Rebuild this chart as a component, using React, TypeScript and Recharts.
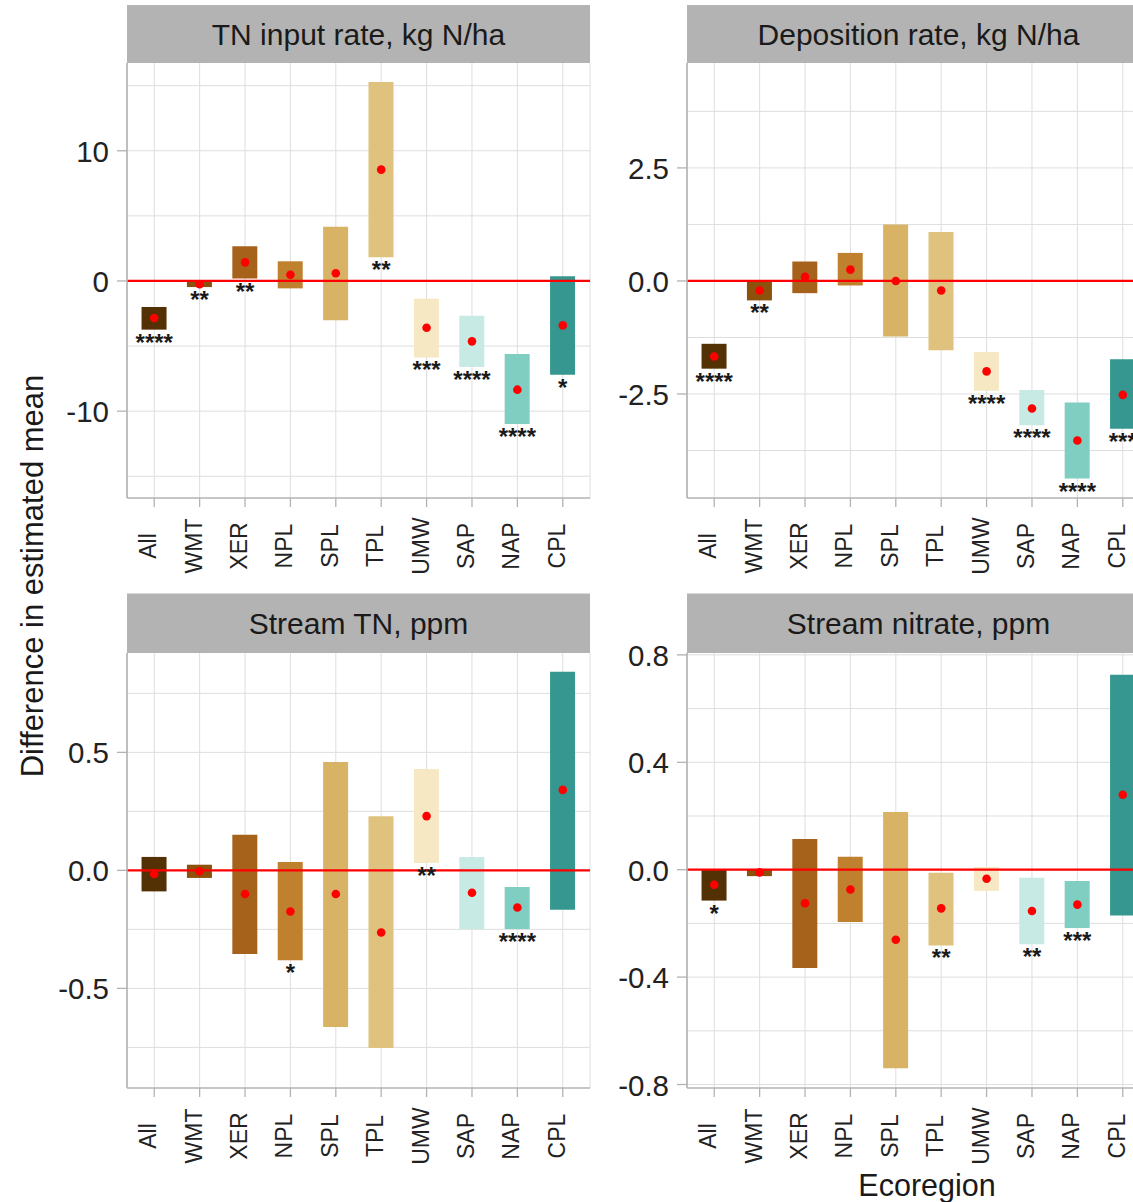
import React from 'react';
import {
  ComposedChart,
  Bar,
  Scatter,
  XAxis,
  YAxis,
  CartesianGrid,
  ReferenceLine,
  Cell,
} from 'recharts';

// ---------------- data ----------------
const ecoregions = ['All', 'WMT', 'XER', 'NPL', 'SPL', 'TPL', 'UMW', 'SAP', 'NAP', 'CPL'];
const ecoregionColors = [
  '#543005', '#8c510a', '#a6611a', '#bf812d', '#d8b365',
  '#dfc27d', '#f6e8c3', '#c7eae5', '#80cdc1', '#35978f',
];

// TN input rate, kg N/ha
const tnInputLow = [-3.74, -0.47, 0.18, -0.57, -3.02, 1.82, -5.87, -6.61, -10.98, -7.2];
const tnInputHigh = [-2.0, -0.02, 2.66, 1.51, 4.17, 15.28, -1.36, -2.67, -5.61, 0.36];
const tnInputEst = [-2.84, -0.25, 1.43, 0.48, 0.59, 8.55, -3.59, -4.64, -8.35, -3.41];
const tnInputSig = ['****', '**', '**', '', '', '**', '***', '****', '****', '*'];
const tnInputTicks = [-10, 0, 10];
const tnInputMinorTicks = [-15, -5, 5, 15];
const tnInputDomain = [-16.67, 16.74];

// Deposition rate, kg N/ha
const depositionLow = [-1.94, -0.43, -0.27, -0.1, -1.23, -1.53, -2.43, -3.19, -4.37, -3.27];
const depositionHigh = [-1.39, -0.01, 0.43, 0.62, 1.25, 1.08, -1.57, -2.41, -2.69, -1.73];
const depositionEst = [-1.67, -0.21, 0.09, 0.25, 0.0, -0.21, -2.0, -2.82, -3.53, -2.52];
const depositionSig = ['****', '**', '', '', '', '', '****', '****', '****', '***'];
const depositionTicks = [-2.5, 0, 2.5];
const depositionMinorTicks = [-3.75, -1.25, 1.25, 3.75];
const depositionDomain = [-4.8, 4.82];

// Stream TN, ppm
const streamTnLow = [-0.089, -0.032, -0.354, -0.381, -0.664, -0.753, 0.031, -0.248, -0.248, -0.167];
const streamTnHigh = [0.057, 0.024, 0.151, 0.036, 0.459, 0.229, 0.43, 0.057, -0.07, 0.842];
const streamTnEst = [-0.015, -0.004, -0.1, -0.174, -0.1, -0.263, 0.23, -0.095, -0.157, 0.341];
const streamTnSig = ['', '', '', '*', '', '', '**', '', '****', ''];
const streamTnTicks = [-0.5, 0, 0.5];
const streamTnMinorTicks = [-0.75, -0.25, 0.25, 0.75];
const streamTnDomain = [-0.922, 0.921];

// Stream nitrate, ppm
const nitrateLow = [-0.115, -0.024, -0.366, -0.195, -0.739, -0.282, -0.079, -0.278, -0.217, -0.171];
const nitrateHigh = [0.0, 0.0, 0.114, 0.048, 0.215, -0.011, 0.01, -0.03, -0.042, 0.726];
const nitrateEst = [-0.056, -0.01, -0.125, -0.074, -0.261, -0.144, -0.034, -0.154, -0.13, 0.279];
const nitrateSig = ['*', '', '', '', '', '**', '', '**', '***', ''];
const nitrateTicks = [-0.8, -0.4, 0, 0.4, 0.8];
const nitrateMinorTicks = [-0.6, -0.2, 0.2, 0.6];
const nitrateDomain = [-0.813, 0.807];

const categoryTicks = ecoregions.map((_, i) => i);

// ---------------- helpers ----------------
const FONT = '"Liberation Sans", Arial, Helvetica, sans-serif';
const GRID = '#dedede';
const FRAME = '#b3b3b3';

type Row = { idx: number; range: [number, number]; est: number; low: number; sig: string };

function buildRows(low: number[], high: number[], est: number[], sig: string[]): Row[] {
  return ecoregions.map((_, i) => ({
    idx: i,
    range: [low[i], high[i]] as [number, number],
    est: est[i],
    low: low[i],
    sig: sig[i],
  }));
}

const XTick = (props: any) => {
  const { x, y, payload } = props;
  const label = ecoregions[payload.value] ?? '';
  const ax = x + 2;
  const ay = y + 39;
  return (
    <text
      x={ax}
      y={ay}
      transform={`rotate(-90 ${ax} ${ay})`}
      textAnchor="middle"
      fontSize={23}
      fontFamily={FONT}
      fill="#222"
    >
      {label}
    </text>
  );
};

const makeYTick = (decimals: number) => (props: any) => {
  const { x, y, payload } = props;
  const v = Number(payload.value);
  const label = v.toFixed(decimals);
  return (
    <text x={x} y={y + 11} textAnchor="end" fontSize={29.5} fontFamily={FONT} fill="#222">
      {label}
    </text>
  );
};

const StarShape = (props: any) => {
  const sig = props?.payload?.sig;
  if (!sig) return <g />;
  return (
    <text
      x={props.cx}
      y={props.cy + 21}
      textAnchor="middle"
      fontSize={24}
      fontWeight="bold"
      fontFamily={FONT}
      fill="#1a1a1a"
    >
      {sig}
    </text>
  );
};

const DotShape = (props: any) => <circle cx={props.cx} cy={props.cy} r={4.3} fill="#ff0000" />;

type PanelProps = {
  left: number;
  top: number;
  axisWidth: number;
  rows: Row[];
  domain: number[];
  ticks: number[];
  minorTicks: number[];
  decimals: number;
  rightBorder: boolean;
};

const PAD_TOP = 20;

function Panel({ left, top, axisWidth, rows, domain, ticks, minorTicks, decimals, rightBorder }: PanelProps) {
  const plotW = 463;
  const plotH = 435;
  const xh = 90;
  const W = axisWidth + plotW + 2;
  return (
    <div style={{ position: 'absolute', left, top: top - PAD_TOP }}>
      <ComposedChart
        width={W}
        height={plotH + xh + PAD_TOP}
        data={rows}
        margin={{ top: PAD_TOP, right: 2, bottom: 0, left: 0 }}
      >
        <CartesianGrid stroke={GRID} strokeWidth={1} horizontalValues={[...minorTicks, ...ticks]} />
        <XAxis
          dataKey="idx"
          type="number"
          domain={[-0.6, 9.6]}
          allowDataOverflow
          ticks={categoryTicks}
          interval={0}
          height={xh}
          tickSize={9}
          tickMargin={0}
          tick={(p: any) => <XTick {...p} />}
          axisLine={{ stroke: FRAME, strokeWidth: 1.6 }}
          tickLine={{ stroke: FRAME, strokeWidth: 1.3 }}
        />
        <YAxis
          type="number"
          domain={domain}
          allowDataOverflow
          ticks={ticks}
          interval={0}
          width={axisWidth}
          tickSize={10}
          tickMargin={8}
          tick={makeYTick(decimals)}
          axisLine={{ stroke: FRAME, strokeWidth: 1.6 }}
          tickLine={{ stroke: FRAME, strokeWidth: 1.3 }}
        />
        {rightBorder ? (
          <YAxis
            yAxisId="frame"
            orientation="right"
            width={0}
            type="number"
            domain={[0, 1]}
            tick={false}
            tickLine={false}
            axisLine={{ stroke: FRAME, strokeWidth: 1.6 }}
          />
        ) : null}
        <Bar dataKey="range" barSize={25} isAnimationActive={false}>
          {rows.map((r, i) => (
            <Cell key={r.idx} fill={ecoregionColors[i]} />
          ))}
        </Bar>
        <ReferenceLine y={0} stroke="#ff0000" strokeWidth={2.2} />
        <Scatter dataKey="low" isAnimationActive={false} shape={StarShape} />
        <Scatter dataKey="est" isAnimationActive={false} shape={DotShape} />
      </ComposedChart>
    </div>
  );
}

const strips = [
  { x: 127, y: 5, h: 58, text: 'TN input rate, kg N/ha', base: 45 },
  { x: 687, y: 5, h: 58, text: 'Deposition rate, kg N/ha', base: 45 },
  { x: 127, y: 593.5, h: 59.5, text: 'Stream TN, ppm', base: 634 },
  { x: 687, y: 593.5, h: 59.5, text: 'Stream nitrate, ppm', base: 634 },
];

export default function App() {
  return (
    <div
      style={{
        position: 'absolute',
        left: 0,
        top: 0,
        width: 1133,
        height: 1202,
        overflow: 'hidden',
        background: '#fff',
        fontFamily: FONT,
      }}
    >
      <svg
        width={1133}
        height={1202}
        style={{ position: 'absolute', left: 0, top: 0, pointerEvents: 'none' }}
      >
        {strips.map((s) => (
          <g key={s.text}>
            <rect x={s.x} y={s.y} width={463} height={s.h} fill="#b3b3b3" />
            <text
              x={s.x + 231.5}
              y={s.base}
              textAnchor="middle"
              fontSize={30}
              fontFamily={FONT}
              fill="#1a1a1a"
            >
              {s.text}
            </text>
          </g>
        ))}
        <text
          x={43}
          y={576}
          transform="rotate(-90 43 576)"
          textAnchor="middle"
          fontSize={31}
          fontFamily={FONT}
          fill="#1a1a1a"
        >
          Difference in estimated mean
        </text>
        <text x={927} y={1196} textAnchor="middle" fontSize={30.5} fontFamily={FONT} fill="#1a1a1a">
          Ecoregion
        </text>
      </svg>
      <Panel
        left={0}
        top={63}
        axisWidth={127}
        rows={buildRows(tnInputLow, tnInputHigh, tnInputEst, tnInputSig)}
        domain={tnInputDomain}
        ticks={tnInputTicks}
        minorTicks={tnInputMinorTicks}
        decimals={0}
        rightBorder
      />
      <Panel
        left={600}
        top={63}
        axisWidth={87}
        rows={buildRows(depositionLow, depositionHigh, depositionEst, depositionSig)}
        domain={depositionDomain}
        ticks={depositionTicks}
        minorTicks={depositionMinorTicks}
        decimals={1}
        rightBorder={false}
      />
      <Panel
        left={0}
        top={653}
        axisWidth={127}
        rows={buildRows(streamTnLow, streamTnHigh, streamTnEst, streamTnSig)}
        domain={streamTnDomain}
        ticks={streamTnTicks}
        minorTicks={streamTnMinorTicks}
        decimals={1}
        rightBorder
      />
      <Panel
        left={600}
        top={653}
        axisWidth={87}
        rows={buildRows(nitrateLow, nitrateHigh, nitrateEst, nitrateSig)}
        domain={nitrateDomain}
        ticks={nitrateTicks}
        minorTicks={nitrateMinorTicks}
        decimals={1}
        rightBorder={false}
      />
    </div>
  );
}
